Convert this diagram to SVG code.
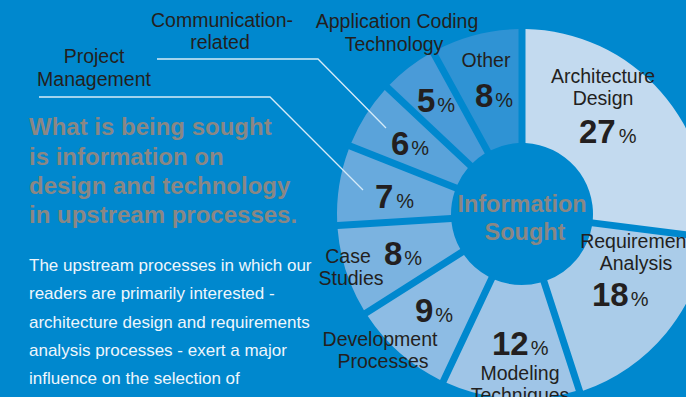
<svg xmlns="http://www.w3.org/2000/svg" width="686" height="397" viewBox="0 0 686 397">
<style>
text{font-family:"Liberation Sans",Arial,Helvetica,sans-serif}
.lbl{font-size:19.5px;fill:#231f20;text-anchor:middle}
.pct{font-size:33px;font-weight:bold;fill:#231f20}
.pc{font-size:20px;font-weight:normal}
.head{font-size:24px;font-weight:bold;fill:#8a8784}
.body{font-size:17px;fill:#eef6fc}
.center{font-size:23.5px;font-weight:bold;fill:#8a8784;text-anchor:middle}
.lead{fill:none;stroke:#d6ebf8;stroke-width:1.3}
</style>
<rect x="0" y="0" width="686" height="397" fill="#0088ce"/>

<g id="seg-architecture">
<path d="M525.5,29.03 A185,185 0 0 1 705.95,233.71 L592.79,219.41 A71,71 0 0 0 525.5,143.09 Z" fill="#c3daef"/>
<text class="lbl" x="603" y="83">Architecture</text>
<text class="lbl" x="603" y="105">Design</text>
<text class="pct" x="579" y="143">27<tspan class="pc" dx="3">%</tspan></text>
</g>

<g id="seg-requirement">
<path d="M707.05,240.9 A187,187 0 0 1 583.1,390.74 L547.24,280.36 A71,71 0 0 0 591.92,226.36 Z" fill="#aacce9"/>
<text class="lbl" x="636" y="248">Requirement</text>
<text class="lbl" x="636" y="270">Analysis</text>
<text class="pct" x="592" y="306">18<tspan class="pc" dx="2">%</tspan></text>
</g>

<g id="seg-modeling">
<path d="M575.83,391 A185,185 0 0 1 446.42,382.86 L494.97,279.65 A71,71 0 0 0 540.58,282.53 Z" fill="#9fc5e7"/>
<text class="pct" x="492" y="355">12<tspan class="pc" dx="2">%</tspan></text>
<text class="lbl" x="520" y="380">Modeling</text>
<text class="lbl" x="520" y="402">Techniques</text>
</g>

<g id="seg-development">
<path d="M440.08,379.88 A185,185 0 0 1 367.7,316.06 L464,254.94 A71,71 0 0 0 488.64,276.67 Z" fill="#8dbce4"/>
<text class="pct" x="415" y="322">9<tspan class="pc" dx="2">%</tspan></text>
<text class="lbl" x="380" y="346">Development</text>
<text class="lbl" x="383" y="368">Processes</text>
</g>

<g id="seg-case">
<path d="M363.95,310.16 A185,185 0 0 1 337.62,229.11 L451.45,221.95 A71,71 0 0 0 460.25,249.05 Z" fill="#7bb3e0"/>
<text class="lbl" x="348" y="263">Case</text>
<text class="lbl" x="351" y="285">Studies</text>
<text class="pct" x="384" y="265">8<tspan class="pc" dx="2">%</tspan></text>
</g>

<g id="seg-project">
<path d="M337.18,222.12 A185,185 0 0 1 348.74,149.17 L454.78,191.15 A71,71 0 0 0 451.01,214.96 Z" fill="#68aadd"/>
<text class="pct" x="375" y="208">7<tspan class="pc" dx="3">%</tspan></text>
</g>

<g id="seg-communication">
<path d="M351.31,142.65 A185,185 0 0 1 384.75,89.96 L467.9,168.02 A71,71 0 0 0 457.36,184.64 Z" fill="#5aa3da"/>
<text class="pct" x="391" y="155">6<tspan class="pc" dx="2">%</tspan></text>
</g>

<g id="seg-application">
<path d="M389.58,84.81 A185,185 0 0 1 429.83,53.59 L484.76,153.55 A71,71 0 0 0 472.72,162.89 Z" fill="#4a9bd8"/>
<text class="pct" x="417" y="112">5<tspan class="pc" dx="2">%</tspan></text>
</g>

<g id="seg-other">
<path d="M435.96,50.22 A185,185 0 0 1 518.5,29.03 L518.5,143.09 A71,71 0 0 0 490.91,150.17 Z" fill="#2f93d4"/>
<text class="lbl" x="486" y="67">Other</text>
<text class="pct" x="475" y="107">8<tspan class="pc" dx="2">%</tspan></text>
</g>

<g id="center">
<text class="center" x="522" y="212">Information</text>
<text class="center" x="525" y="240">Sought</text>
</g>

<g id="label-communication">
<text class="lbl" x="222" y="27">Communication-</text>
<text class="lbl" x="220" y="49">related</text>
</g>
<g id="label-application">
<text class="lbl" x="397" y="28">Application Coding</text>
<text class="lbl" x="394" y="51">Technology</text>
</g>
<g id="label-project">
<text class="lbl" x="94" y="63">Project</text>
<text class="lbl" x="94" y="86">Management</text>
</g>

<g id="connectors">
<polyline class="lead" points="157,59 318,59 386,128"/>
<polyline class="lead" points="39,97 270,97 363,190"/>
</g>

<g id="headline">
<text class="head" x="29" y="135">What is being sought</text>
<text class="head" x="29" y="165">is information on</text>
<text class="head" x="29" y="194">design and technology</text>
<text class="head" x="29" y="223">in upstream processes.</text>
</g>

<g id="body">
<text class="body" x="29" y="271">The upstream processes in which our</text>
<text class="body" x="29" y="299">readers are primarily interested -</text>
<text class="body" x="29" y="328">architecture design and requirements</text>
<text class="body" x="29" y="356">analysis processes - exert a major</text>
<text class="body" x="29" y="384">influence on the selection of</text>
</g>
</svg>
